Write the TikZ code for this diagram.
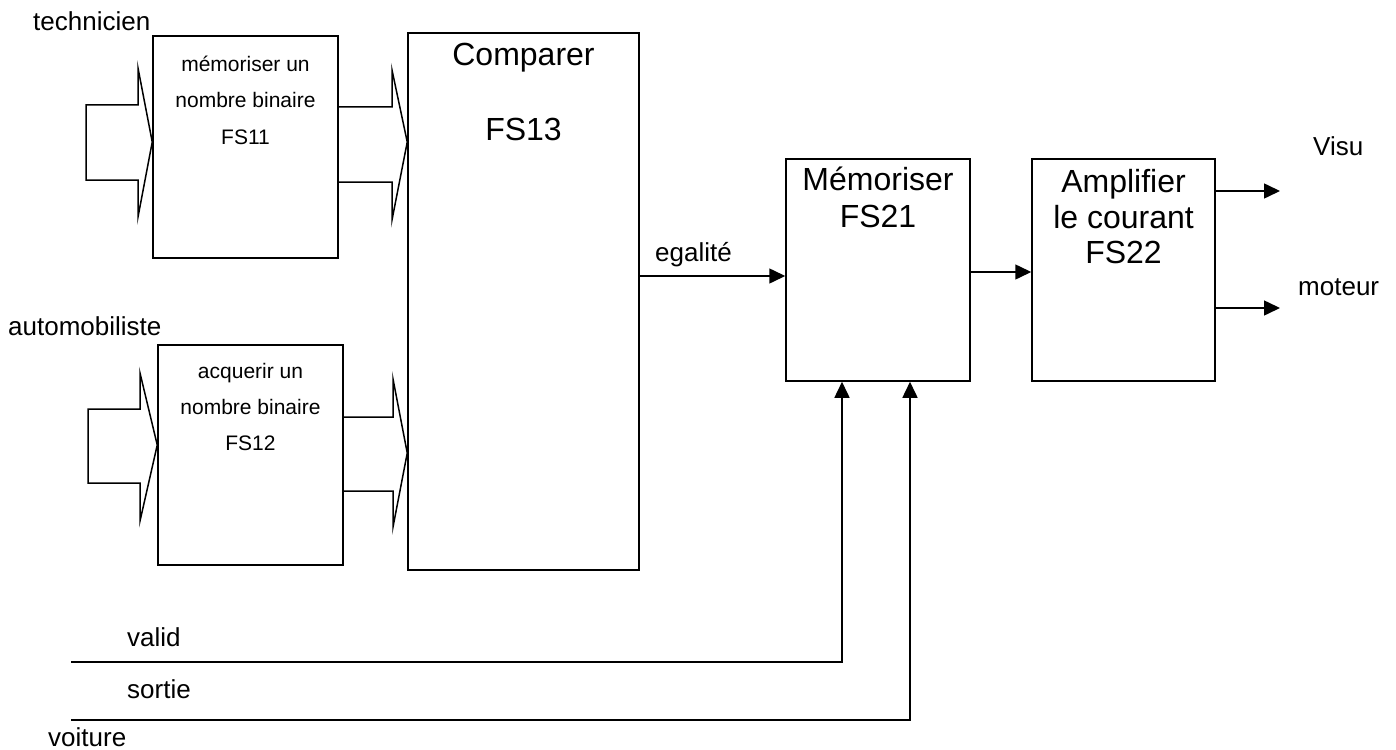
\documentclass[tikz,border=0pt]{standalone}
\usepackage{fontspec}
\setmainfont{Liberation Sans}
\usetikzlibrary{arrows.meta}
\begin{document}
\begin{tikzpicture}[x=1pt,y=-1pt,
  box/.style={draw, line width=1.5pt, inner sep=0pt},
  lbl/.style={inner sep=0pt, anchor=base west, font=\fontsize{26}{30}\selectfont},
  sm/.style={inner sep=0pt, anchor=base, font=\fontsize{21}{25}\selectfont},
  big/.style={inner sep=0pt, anchor=base, font=\fontsize{32}{36}\selectfont},
  wire/.style={line width=1.5pt},
  arr/.style={wire, -{Triangle[length=16pt,width=15pt]}},
  fat/.style={line width=1.5pt, line join=miter, miter limit=20}]
\useasboundingbox (0,0) rectangle (1396,749);

% boxes
\node[box, minimum width=185pt, minimum height=222pt] (fs11) at (245.5,147) {};
\node[box, minimum width=185pt, minimum height=220pt] (fs12) at (250.5,455) {};
\node[box, minimum width=231pt, minimum height=537pt] (fs13) at (523.5,301.5) {};
\node[box, minimum width=184pt, minimum height=222pt] (fs21) at (878,270) {};
\node[box, minimum width=183pt, minimum height=222pt] (fs22) at (1123.5,270) {};

% box texts
\node[sm] (t11a) at (245.5,72) {mémoriser un};
\node[sm] (t11b) at (245.5,107) {nombre binaire};
\node[sm] (t11c) at (245.5,144) {FS11};
\node[sm] (t12a) at (250.5,378) {acquerir un};
\node[sm] (t12b) at (250.5,414) {nombre binaire};
\node[sm] (t12c) at (250.5,450) {FS12};
\node[big] (t13a) at (523.5,66) {Comparer};
\node[big] (t13b) at (523.5,140) {FS13};
\node[big] (t21a) at (878,190) {Mémoriser};
\node[big] (t21b) at (878,227) {FS21};
\node[big] (t22a) at (1123.5,192) {Amplifier};
\node[big] (t22b) at (1123.5,228) {le courant};
\node[big] (t22c) at (1123.5,263) {FS22};

% labels
\node[lbl] (ltech) at (33,31) {technicien};
\node[lbl] (lauto) at (8,335) {automobiliste};
\node[lbl] (lega) at (655,261) {egalité};
\node[lbl] (lvisu) at (1313,155) {Visu};
\node[lbl] (lmot) at (1298,295) {moteur};
\node[lbl] (lval) at (127,646) {valid};
\node[lbl] (lsor) at (127,698) {sortie};
\node[lbl] (lvoi) at (48,746) {voiture};

% hollow bus arrows
\draw[fat] (86,105) -- (138,105) -- (138,68) -- (fs11.west |- 0,142) -- (138,217) -- (138,180) -- (86,180) -- cycle;
\draw[fat] (fs11.east |- 0,107) -- (392,107) -- (392,70) -- (fs13.west |- 0,142) -- (392,220) -- (392,182) -- (fs11.east |- 0,182);
\draw[fat] (88,409) -- (140,409) -- (140,373) -- (fs12.west |- 0,445) -- (140,521) -- (140,483) -- (88,483) -- cycle;
\draw[fat] (fs12.east |- 0,417) -- (393,417) -- (393,379) -- (fs13.west |- 0,453) -- (393,527) -- (393,491) -- (fs12.east |- 0,491);

% signal arrows
\coordinate (cval) at (71,662);
\coordinate (csor) at (71,720);
\coordinate (cvisu) at (1280,191);
\coordinate (cmot) at (1280,308);
\draw[arr] (fs13.east |- 0,276) -- (fs21.west |- 0,276);
\draw[arr] (fs21.east |- 0,272) -- (fs22.west |- 0,272);
\draw[arr] (fs22.east |- cvisu) -- (cvisu);
\draw[arr] (fs22.east |- cmot) -- (cmot);
\draw[arr] (cval) -- (842,662) -- (fs21.south -| 842,0);
\draw[arr] (csor) -- (910,720) -- (fs21.south -| 910,0);
\end{tikzpicture}
\end{document}
